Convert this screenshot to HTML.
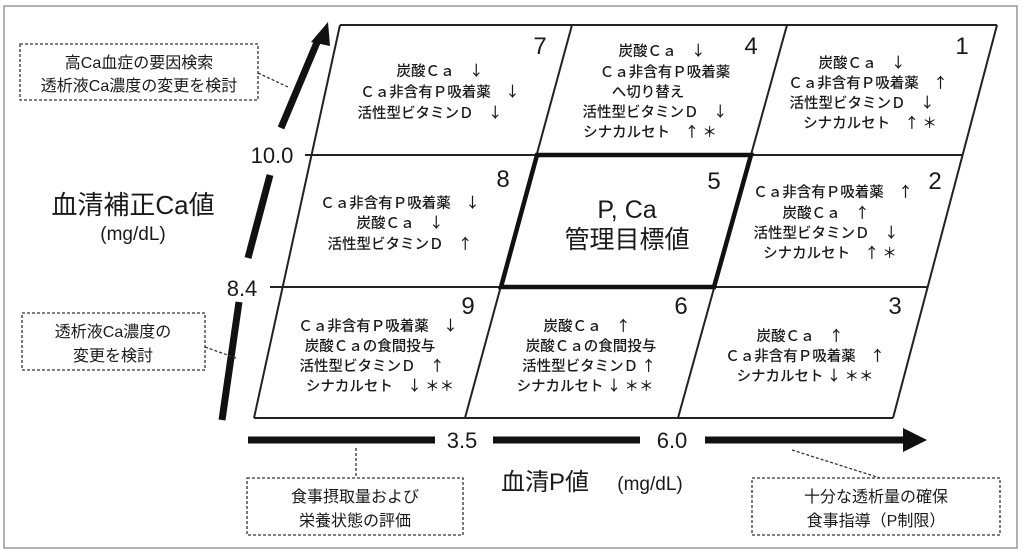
<!DOCTYPE html>
<html><head><meta charset="utf-8"><style>
html,body{margin:0;padding:0;background:#fff;}
svg{display:block;}
text{font-family:"Liberation Sans","Noto Sans CJK JP",sans-serif;fill:#1a1a1a;}
.c{font-size:14.5px;text-anchor:middle;font-family:"Noto Sans CJK JP",sans-serif;font-weight:500;}
.n{font-size:24px;text-anchor:middle;}
</style></head><body>
<svg width="1024" height="559" viewBox="0 0 1024 559" xmlns="http://www.w3.org/2000/svg">
<rect x="4" y="6" width="1013" height="542" fill="#fff" stroke="#999" stroke-width="1.5"/>
<g stroke="#222" stroke-width="2" fill="none">
<line x1="340" y1="25" x2="997" y2="25"/>
<line x1="305" y1="155" x2="962" y2="155"/>
<line x1="270" y1="287" x2="927" y2="287"/>
<line x1="254" y1="418" x2="893" y2="418"/>
<line x1="340" y1="25" x2="254" y2="418"/>
<line x1="572" y1="25" x2="465" y2="418"/>
<line x1="787" y1="25" x2="678" y2="418"/>
<line x1="997" y1="25" x2="893" y2="418"/>
</g>
<polygon points="537,155 751,155 714,287 501,287" fill="none" stroke="#111" stroke-width="4.5"/>
<g stroke="#111" stroke-width="7" stroke-linecap="butt">
<line x1="281" y1="128" x2="318" y2="40"/>
<line x1="270" y1="175" x2="248" y2="258"/>
<line x1="239" y1="302" x2="222" y2="420"/>
</g>
<polygon points="328,22 311,42 330,46" fill="#111"/>
<text x="272" y="163" font-size="22" text-anchor="middle">10.0</text>
<text x="242" y="296" font-size="22" text-anchor="middle">8.4</text>
<g stroke="#111" stroke-width="7">
<line x1="248" y1="440" x2="435" y2="440"/>
<line x1="493" y1="440" x2="640" y2="440"/>
<line x1="705" y1="440" x2="905" y2="440"/>
</g>
<polygon points="927,440 903,428 903,452" fill="#111"/>
<text x="462" y="448" font-size="22" text-anchor="middle">3.5</text>
<text x="672" y="448" font-size="22" text-anchor="middle">6.0</text>
<text x="133" y="214" font-size="26" text-anchor="middle">血清補正Ca値</text>
<text x="133" y="240" font-size="19" text-anchor="middle">(mg/dL)</text>
<text x="545" y="490" font-size="24" text-anchor="middle">血清P値</text>
<text x="650" y="490" font-size="19" text-anchor="middle">(mg/dL)</text>
<g fill="none" stroke="#333" stroke-width="1.3" stroke-dasharray="3,2">
<rect x="20" y="44" width="238" height="56"/>
<rect x="22" y="313" width="183" height="57"/>
<rect x="247" y="478" width="216" height="57"/>
<rect x="752" y="478" width="248" height="57"/>
<line x1="258" y1="73" x2="288" y2="87"/>
<line x1="205" y1="347" x2="236" y2="358"/>
<line x1="356" y1="448" x2="356" y2="478"/>
<line x1="792" y1="450" x2="880" y2="478"/>
</g>
<g font-size="16" text-anchor="middle">
<text x="139" y="68">高Ca血症の要因検索</text>
<text x="139" y="91">透析液Ca濃度の変更を検討</text>
<text x="113" y="337">透析液Ca濃度の</text>
<text x="113" y="361">変更を検討</text>
<text x="355" y="502">食事摂取量および</text>
<text x="355" y="526">栄養状態の評価</text>
<text x="876" y="502">十分な透析量の確保</text>
<text x="876" y="526">食事指導（P制限）</text>
</g>
<text class="n" x="540" y="54">7</text>
<text class="c" x="440" y="76">炭酸Ｃａ　↓</text>
<text class="c" x="440" y="97">Ｃａ非含有Ｐ吸着薬　↓</text>
<text class="c" x="430" y="118">活性型ビタミンＤ　↓</text>

<text class="n" x="751" y="54">4</text>
<text class="c" x="662" y="56">炭酸Ｃａ　↓</text>
<text class="c" x="665" y="77">Ｃａ非含有Ｐ吸着薬</text>
<text class="c" x="648" y="97">へ切り替え</text>
<text class="c" x="655" y="117">活性型ビタミンＤ　↓</text>
<text class="c" x="650" y="137">シナカルセト　↑ ＊</text>

<text class="n" x="962" y="54">1</text>
<text class="c" x="862" y="68">炭酸Ｃａ　↓</text>
<text class="c" x="868" y="88">Ｃａ非含有Ｐ吸着薬　↑</text>
<text class="c" x="862" y="108">活性型ビタミンＤ　↓</text>
<text class="c" x="870" y="128">シナカルセト　↑ ＊</text>

<text class="n" x="503" y="187">8</text>
<text class="c" x="400" y="208">Ｃａ非含有Ｐ吸着薬　↓</text>
<text class="c" x="400" y="228">炭酸Ｃａ　↓</text>
<text class="c" x="400" y="249">活性型ビタミンＤ　↑</text>

<text class="n" x="714" y="189">5</text>
<text x="627" y="218" font-size="25" text-anchor="middle">P,  Ca</text>
<text x="627" y="248" font-size="25" text-anchor="middle">管理目標値</text>

<text class="n" x="935" y="189">2</text>
<text class="c" x="833" y="197">Ｃａ非含有Ｐ吸着薬　↑</text>
<text class="c" x="826" y="218">炭酸Ｃａ　↑</text>
<text class="c" x="826" y="238">活性型ビタミンＤ　↓</text>
<text class="c" x="830" y="258">シナカルセト　↑ ＊</text>

<text class="n" x="468" y="314">9</text>
<text class="c" x="378" y="331">Ｃａ非含有Ｐ吸着薬　↓</text>
<text class="c" x="370" y="351">炭酸Ｃａの食間投与</text>
<text class="c" x="372" y="371">活性型ビタミンＤ　↑</text>
<text class="c" x="380" y="391">シナカルセト　↓ ＊＊</text>

<text class="n" x="681" y="314">6</text>
<text class="c" x="587" y="331">炭酸Ｃａ　↑</text>
<text class="c" x="591" y="351">炭酸Ｃａの食間投与</text>
<text class="c" x="589" y="371">活性型ビタミンＤ ↑</text>
<text class="c" x="585" y="391">シナカルセト ↓ ＊＊</text>

<text class="n" x="895" y="314">3</text>
<text class="c" x="800" y="341">炭酸Ｃａ　↑</text>
<text class="c" x="805" y="361">Ｃａ非含有Ｐ吸着薬　↑</text>
<text class="c" x="805" y="381">シナカルセト ↓ ＊＊</text>
</svg>
</body></html>
